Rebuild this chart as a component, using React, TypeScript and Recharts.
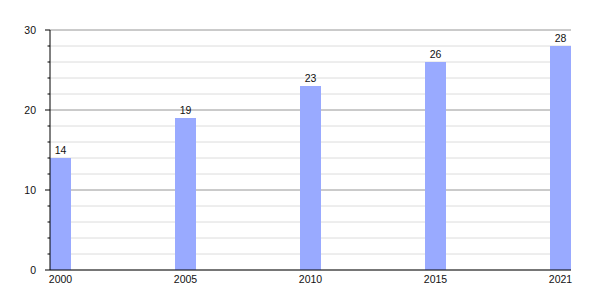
import React from "react"
import { BarChart, Bar, XAxis, YAxis, CartesianGrid, LabelList } from "recharts"

const years = ["2000", "2005", "2010", "2015", "2021"]
const values = [14, 19, 23, 26, 28]
const yTicks = [0, 2, 4, 6, 8, 10, 12, 14, 16, 18, 20, 22, 24, 26, 28, 30]
const majorTicks = [10, 20, 30]

const data = years.map((year, i) => ({ i, year, value: values[i] }))

const FONT = "'Liberation Sans', Arial, sans-serif"

// y-axis tick: long mark + label on multiples of 10, short mark otherwise
const YTick = (props: any) => {
  const { x, y, payload } = props
  const axisX = x + 14
  const major = payload.value % 10 === 0
  return (
    <g>
      <line x1={axisX - (major ? 5 : 2.5)} x2={axisX} y1={y} y2={y} stroke="#000" />
      {major && (
        <text x={x} y={y} dy={4} textAnchor="end" fontSize={10.5} fontFamily={FONT} fill="#111">
          {payload.value}
        </text>
      )}
    </g>
  )
}

export default function App() {
  return (
    <div style={{ position: "absolute", left: 0, top: 0, width: 600, height: 300, background: "#fff" }}>
      <BarChart width={600} height={300} data={data} margin={{ top: 30, right: 29, bottom: 0, left: 0 }}>
        <CartesianGrid vertical={false} stroke="#dcdcdc" />
        <CartesianGrid vertical={false} horizontalValues={majorTicks} stroke="#a8a8a8" />
        <XAxis
          dataKey="i"
          type="number"
          domain={[0, 4]}
          ticks={[0, 1, 2, 3, 4]}
          padding={{ left: 10.5, right: 10.5 }}
          tickFormatter={(i: number) => years[i]}
          height={30}
          tickLine={false}
          tickSize={0}
          tickMargin={6}
          axisLine={{ stroke: "#000" }}
          tick={{ fontSize: 10.5, fontFamily: FONT, fill: "#111" }}
        />
        <YAxis
          width={50}
          domain={[0, 30]}
          ticks={yTicks}
          interval={0}
          tickLine={false}
          tickSize={5}
          tickMargin={9}
          axisLine={{ stroke: "#000" }}
          tick={<YTick />}
        />
        <Bar dataKey="value" fill="#99aaff" barSize={21} isAnimationActive={false}>
          <LabelList dataKey="value" position="top" offset={4} fontSize={10.5} fontFamily={FONT} fill="#111" />
        </Bar>
      </BarChart>
    </div>
  )
}
